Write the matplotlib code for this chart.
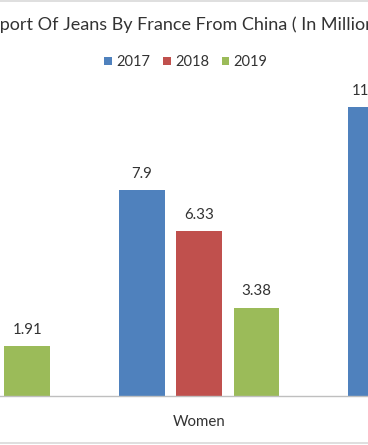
import numpy as np
import matplotlib
matplotlib.use("Agg")
import matplotlib.pyplot as plt
from matplotlib.lines import Line2D
from matplotlib.patches import Patch

# ---- data (only what is visible in the cropped reference) ----
categories = ["Men", "Women", "Kids"]
series_names = ["2017", "2018", "2019"]
values_2017 = [np.nan, 7.9, 11.09]
values_2018 = [np.nan, 6.33, np.nan]
values_2019 = [1.91, 3.38, np.nan]
title_text = "Import Of Jeans By France From China ( In Million Pieces )"

colors = ["#4F81BD", "#C0504D", "#9BBB59"]
text_color = "#333333"
font = ["Lato", "DejaVu Sans"]
plt.rcParams["font.family"] = font

W, H = 368, 445
fig = plt.figure(figsize=(W / 100, H / 100), dpi=100)
fig.patch.set_facecolor("white")

# axes extends past the figure edges (the reference is a crop)
ax = fig.add_axes([-144.75 / W, 49.5 / H, 687.9 / W, 338.4 / H])
ax.set_xlim(-0.5, 2.5)
ax.set_ylim(0, 13)

x = np.arange(len(categories))
bw = 0.2
offs = [-0.25, 0.0, 0.25]
all_vals = [values_2017, values_2018, values_2019]
for vals, off, c, name in zip(all_vals, offs, colors, series_names):
    v = np.array(vals, dtype=float)
    ax.bar(x + off, v, width=bw, color=c, label=name, zorder=2)
    for xi, vi in zip(x + off, v):
        if not np.isnan(vi):
            ax.annotate(f"{vi:g}", (xi, vi), xytext=(0, 6.5), textcoords="offset points",
                        ha="center", va="bottom", fontsize=10.8, color=text_color)

for s in ["top", "right", "left"]:
    ax.spines[s].set_visible(False)
ax.spines["bottom"].set_color("#bfbfbf")
ax.spines["bottom"].set_linewidth(1)
ax.set_yticks([])
ax.set_xticks(x)
ax.set_xticklabels(categories, fontsize=10.8, color=text_color)
ax.tick_params(axis="x", length=0, pad=14)
ax.set_facecolor("none")

# title (cropped at the left)
title_size = 13.0
fig.canvas.draw()
r = fig.canvas.get_renderer()
tmp = fig.text(0, 0, "Im", fontsize=title_size)
w_im = tmp.get_window_extent(r).width
tmp.remove()
fig.text(-w_im / W - 0.002, 1 - 30 / H, title_text, fontsize=title_size, color=text_color,
         ha="left", va="baseline")

handles = [Patch(facecolor=c, edgecolor="none") for c in colors]
fig.legend(handles, series_names, loc="center", bbox_to_anchor=(186 / W, 1 - 62 / H),
           ncol=3, frameon=False, fontsize=10.5, handlelength=0.5, handleheight=0.5,
           handletextpad=0.3, columnspacing=0.9, labelcolor=text_color)

# chart border lines visible at top and bottom
fig.add_artist(Line2D([0, 1], [1 - 1.2 / H, 1 - 1.2 / H], color="#d9d9d9", lw=1.2))
fig.add_artist(Line2D([0, 1], [1 - 442.7 / H, 1 - 442.7 / H], color="#d9d9d9", lw=1.2))

fig.savefig("out.png", dpi=100, facecolor="white")
